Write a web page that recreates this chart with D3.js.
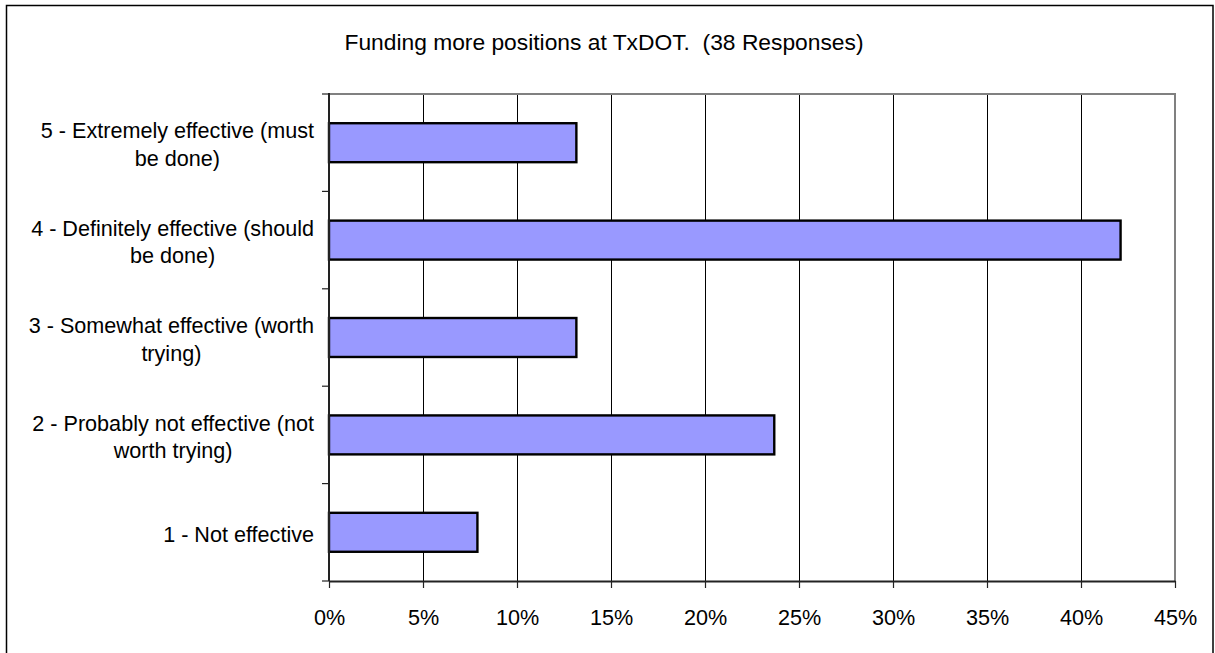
<!DOCTYPE html>
<html>
<head>
<meta charset="utf-8">
<script src="https://cdn.jsdelivr.net/npm/d3@7"></script>
<style>
  html, body { margin: 0; padding: 0; background: #fff; }
  svg { display: block; }
  text { font-family: "Liberation Sans", Arial, sans-serif; fill: #000; }
</style>
</head>
<body>
<svg id="chart" width="1215" height="653"></svg>
<script>
// Survey responses (share of 38 responses), top category first
const categories = [
  ["5 - Extremely effective (must", "be done)"],
  ["4 - Definitely effective (should", "be done)"],
  ["3 - Somewhat effective (worth", "trying)"],
  ["2 - Probably not effective (not", "worth trying)"],
  ["1 - Not effective"]
];
const values = [5 / 38, 16 / 38, 5 / 38, 9 / 38, 3 / 38];
const xTicks = [0, 0.05, 0.10, 0.15, 0.20, 0.25, 0.30, 0.35, 0.40, 0.45];
const title = "Funding more positions at TxDOT.\u00a0\u00a0(38 Responses)";

const svg = d3.select("#chart");
const fontSize = 21.6;

const plot = { left: 329, right: 1175, top: 94, bottom: 581 };

// outer chart frame (runs off the right/bottom edges)
svg.append("rect")
  .attr("x", 6.5).attr("y", 5.5)
  .attr("width", 1206.5).attr("height", 700)
  .attr("fill", "#fff").attr("stroke", "#000").attr("stroke-width", 1.5);

svg.append("text")
  .attr("x", 604).attr("y", 50)
  .attr("text-anchor", "middle")
  .style("font-size", "22.8px")
  .text(title);

const x = d3.scaleLinear().domain([0, 0.45]).range([plot.left, plot.right]);
const y = d3.scaleBand()
  .domain(d3.range(categories.length))
  .range([plot.top, plot.bottom])
  .paddingInner(0.6).paddingOuter(0.3);
const yEdges = d3.scaleLinear().domain([0, categories.length]).range([plot.top, plot.bottom]);

// vertical gridlines
svg.append("g")
  .selectAll("line")
  .data(xTicks.slice(1, -1))
  .join("line")
  .attr("x1", d => Math.round(x(d)) + 0.5).attr("x2", d => Math.round(x(d)) + 0.5)
  .attr("y1", plot.top).attr("y2", plot.bottom)
  .attr("stroke", "#000").attr("stroke-width", 1);

// plot-area border (top and right in gray)
svg.append("path")
  .attr("d", `M${plot.left},${plot.top} H${plot.right} V${plot.bottom}`)
  .attr("fill", "none").attr("stroke", "#808080").attr("stroke-width", 2);

// bars
svg.append("g")
  .selectAll("rect")
  .data(values)
  .join("rect")
  .attr("x", x(0))
  .attr("y", (d, i) => y(i))
  .attr("width", d => x(d) - x(0))
  .attr("height", y.bandwidth())
  .attr("fill", "#9999FF")
  .attr("stroke", "#000").attr("stroke-width", 2.4);

// x axis
const xAxis = d3.axisBottom(x)
  .tickValues(xTicks)
  .tickFormat(d3.format(".0%"))
  .tickSizeInner(7).tickSizeOuter(0).tickPadding(22);
const gx = svg.append("g").attr("transform", `translate(0,${plot.bottom})`).call(xAxis);
gx.select(".domain").attr("stroke", "#222").attr("stroke-width", 2);
gx.selectAll(".tick line").attr("stroke", "#222").attr("stroke-width", 1.2);
gx.selectAll(".tick text")
  .style("font-size", fontSize + "px")
  .style("font-family", "'Liberation Sans', Arial, sans-serif")
  .attr("fill", "#000");

// y axis line with ticks at category boundaries
const gy = svg.append("g");
gy.append("line")
  .attr("x1", plot.left).attr("x2", plot.left)
  .attr("y1", plot.top - 1).attr("y2", plot.bottom)
  .attr("stroke", "#222").attr("stroke-width", 2);
gy.selectAll("line.tick")
  .data(d3.range(categories.length + 1))
  .join("line")
  .attr("class", "tick")
  .attr("x1", plot.left - 7).attr("x2", plot.left)
  .attr("y1", d => yEdges(d)).attr("y2", d => yEdges(d))
  .attr("stroke", "#222").attr("stroke-width", 1.2);

// category labels: block right-aligned, lines centered within block
const lineH = 27.5;
const labelRight = 314;
categories.forEach((lines, i) => {
  const cy = y(i) + y.bandwidth() / 2;
  const g = svg.append("g");
  const texts = lines.map((s, k) =>
    g.append("text")
      .style("font-size", fontSize + "px")
      .attr("y", cy + (k - (lines.length - 1) / 2) * lineH + 9.5)
      .text(s));
  const widths = texts.map(t => t.node().getComputedTextLength());
  const w = d3.max(widths);
  const center = labelRight - w / 2;
  texts.forEach(t => t.attr("x", center).attr("text-anchor", "middle"));
});
</script>
</body>
</html>
